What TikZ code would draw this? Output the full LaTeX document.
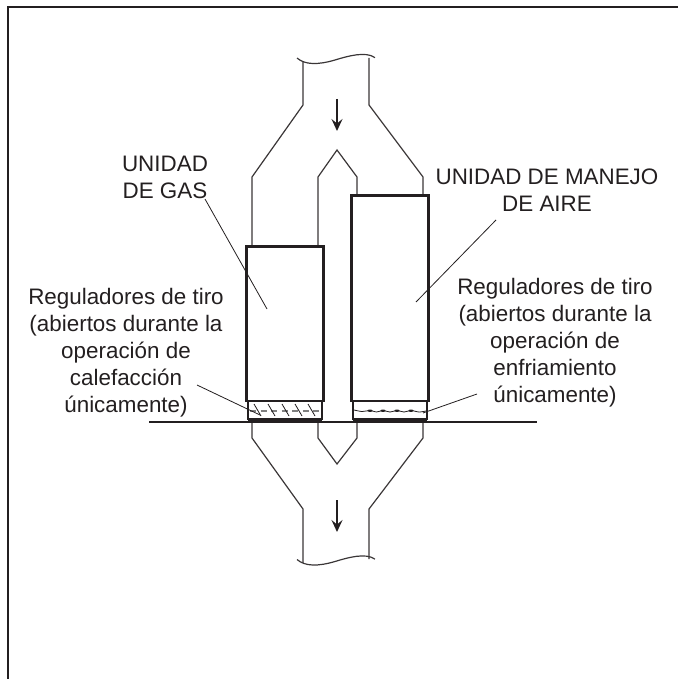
\documentclass[tikz,border=0pt]{standalone}
\usepackage{fontspec}
\setmainfont{Liberation Sans}
\usetikzlibrary{arrows.meta}
\definecolor{inkline}{HTML}{231F20}
\definecolor{ductline}{HTML}{3A3637}
\tikzset{
   unitbox/.style={draw=inkline, line width=2.6pt, inner sep=0pt, outer sep=0pt},
   duct/.style={draw=ductline, line width=1.2pt, line join=miter},
   leader/.style={draw=inkline, line width=0.8pt},
   caption/.style={align=center, text=inkline, inner sep=0pt, font=\fontsize{22.4}{27}\selectfont},
   flow/.style={draw=inkline, line width=2pt, -{Stealth[length=12pt, width=11pt, inset=4.5pt]}}
}

\begin{document}
\begin{tikzpicture}[x=1pt, y=-1pt]
   \useasboundingbox (0,0) rectangle (678,679);
   % frame
   \draw[draw=inkline, line width=2.8pt] (8,679) -- (8,7) -- (678,7);
   % ducts
   \draw[duct] (303,62) -- (303,105) -- (252,177) -- (252,246);
   \draw[duct] (369,58) -- (369,105) -- (423,177) -- (423,195);
   \draw[duct] (318,246) -- (318,177) -- (337,150) -- (357,177) -- (357,195);
   \draw[duct] (252,422) -- (252,438) -- (303,509) -- (303,563);
   \draw[duct] (423,422) -- (423,438) -- (369,509) -- (369,559);
   \draw[duct] (318,422) -- (318,438) -- (337,464) -- (357,438) -- (357,422);
   \foreach \s in {0,501.5}
      \draw[duct, yshift=-\s pt] (297,58) .. controls (305,65) and (318,65) .. (335,60)
         .. controls (348,56) and (366,51) .. (375,57.7);
   % units
   \node (gasunit) [unitbox, minimum width=76.5pt, minimum height=154.5pt] at (285,323.75) {};
   \node (airunit) [unitbox, minimum width=77pt, minimum height=205.5pt] at (390,298.25) {};
   \node (gasdamper) [unitbox, line width=2pt, minimum width=74pt, minimum height=18pt] at (285,410) {};
   \node (airdamper) [unitbox, line width=2pt, minimum width=74pt, minimum height=18pt] at (390,410) {};
   \draw[draw=inkline, line width=3pt] (gasdamper.south west) -- (gasdamper.south east);
   \draw[draw=inkline, line width=3pt] (airdamper.south west) -- (airdamper.south east);
   % floor
   \draw[draw=inkline, line width=2.8pt] (149,422) -- (537,422);
   % open damper
   \draw[draw=gray, line width=1.2pt, dash pattern=on 6pt off 4.5pt] (250,411) -- (321,411);
   \foreach \x in {254,268,282,295,308}
      \draw[draw=inkline, line width=0.8pt] (\x,404) -- (\x+7,416);
   % closed damper
   \draw[draw=inkline, line width=0.8pt] plot[smooth] coordinates {(354,410) (362,411.5) (370,410.5) (376.5,412)
      (383,410.5) (390,412) (397,410.5) (404,412) (411,410.5) (419,412) (426,411)};
   \foreach \x in {370,383,397,411}
      \fill[inkline] (\x,410.7) ellipse (2.6pt and 1.2pt);
   % arrows
   \coordinate (topstart) at (337,99);
   \coordinate (topend) at (337,131);
   \coordinate (lowstart) at (337,500);
   \coordinate (lowend) at (337,532);
   \draw[flow] (topstart) -- (topend);
   \draw[flow] (lowstart) -- (lowend);
   % labels
   \node (gaslabel) [caption] at (165,177) {UNIDAD\\DE GAS};
   \node (airlabel) [caption] at (547,190) {UNIDAD DE MANEJO\\DE AIRE};
   \node (gasreg) [caption] at (126,353) {Reguladores de tiro\\(abiertos durante la\\operación de\\calefacción\\únicamente)};
   \node (airreg) [caption] at (555,343) {Reguladores de tiro\\(abiertos durante la\\operación de\\enfriamiento\\únicamente)};
   % leaders
   \coordinate (gasfrom) at (205,199);
   \coordinate (gasto) at (267,309);
   \coordinate (airfrom) at (496,220);
   \coordinate (airto) at (416,302);
   \coordinate (regfrom) at (197,385);
   \coordinate (regto) at (260,415);
   \coordinate (regairfrom) at (477,394);
   \coordinate (regairto) at (423,413);
   \draw[leader] (gasfrom) -- (gasto);
   \draw[leader] (airfrom) -- (airto);
   \draw[leader] (regfrom) -- (regto);
   \draw[leader] (regairfrom) -- (regairto);
\end{tikzpicture}
\end{document}
